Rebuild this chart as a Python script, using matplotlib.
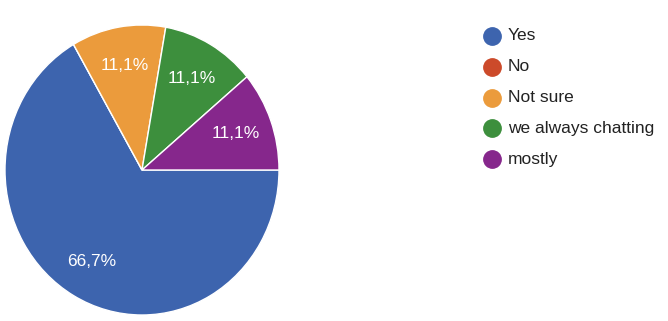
import matplotlib
matplotlib.use("Agg")
import matplotlib.pyplot as plt
from matplotlib.lines import Line2D

categories = ["Yes", "No", "Not sure", "we always chatting", "mostly"]
values = [6, 0, 1, 1, 1]
colors = ["#3d64ae", "#cc4a2a", "#eb9b3c", "#3d8f3d", "#86278c"]

plt.rcParams['font.family'] = ['Liberation Sans', 'DejaVu Sans']

W, H = 668, 321
fig = plt.figure(figsize=(W / 100, H / 100), dpi=100)
ax = fig.add_axes([5 / W, 6 / H, 274 / W, 290 / H])

def fmt(p):
    if p < 0.05:
        return ''
    return f"{p:.1f}".replace('.', ',') + '%'

wedges, texts, autotexts = ax.pie(
    values, colors=colors, startangle=0, counterclock=False,
    autopct=fmt, pctdistance=0.73,
    wedgeprops=dict(edgecolor='white', linewidth=1.0),
    textprops=dict(color='white', fontsize=12.5))
ax.set_aspect('auto')
ax.set_xlim(-1.0, 1.0)
ax.set_ylim(-1.0, 1.0)
ax.axis('off')

x0 = 492
y0 = 36
dy = 30.8
for i, (c, col) in enumerate(zip(categories, colors)):
    y = y0 + i * dy
    fig.add_artist(Line2D([x0 / W], [1 - y / H], marker='o', markersize=12.5,
                          color=col, linestyle='none', transform=fig.transFigure))
    fig.text(508 / W, 1 - y / H, c, fontsize=12.5, color='#222222',
             va='center', ha='left')

fig.savefig("out.png", dpi=100)
